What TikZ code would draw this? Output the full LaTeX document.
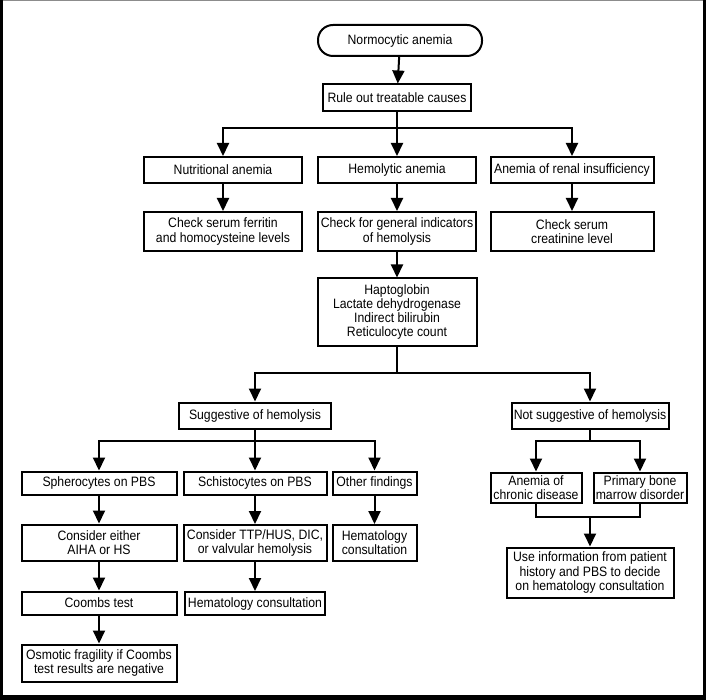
\documentclass[tikz,border=0pt]{standalone}
\usepackage{fontspec}
\setmainfont{Liberation Sans}[FakeStretch=0.9]
\usetikzlibrary{arrows.meta}

\tikzset{
  box/.style={draw, line width=2pt, align=center, inner sep=1pt,
    font=\fontsize{13.6}{14.2}\selectfont},
  arr/.style={line width=2pt, -{Triangle[length=13pt,width=12pt]}},
  link/.style={line width=2pt},
}

\begin{document}
\begin{tikzpicture}[x=1pt,y=-1pt]
    \useasboundingbox (0,0) rectangle (706,700);
    % frame
    \fill[black!45] (0,0) rectangle (706,1.5);
    \fill (0,0) rectangle (3,700);
    \fill (703,0) rectangle (706,700);
    \fill (0,695) rectangle (706,700);

    % top part
    \node[box, rounded corners=15pt, minimum width=164pt, minimum height=31pt] (norm) at (400,40.5) {Normocytic anemia};
    \node[box, minimum width=148pt, minimum height=27pt] (rule) at (397,98) {Rule out treatable causes};
    \node[box, minimum width=158pt, minimum height=26pt] (nutr) at (223,170) {Nutritional anemia};
    \node[box, minimum width=158pt, minimum height=26pt] (hemo) at (397,170) {Hemolytic anemia};
    \node[box, minimum width=163pt, minimum height=26pt] (renal) at (572,170) {Anemia of renal insufficiency};
    \node[box, minimum width=158pt, minimum height=39pt] (ferr) at (223,231.5) {Check serum ferritin\\and homocysteine levels};
    \node[box, minimum width=158pt, minimum height=39pt] (indic) at (397,231.5) {Check for general indicators\\of hemolysis};
    \node[box, minimum width=163pt, minimum height=39pt] (creat) at (572,231.5) {Check serum\\creatinine level};
    \node[box, minimum width=159pt, minimum height=67pt] (hapto) at (397,312) {Haptoglobin\\Lactate dehydrogenase\\Indirect bilirubin\\Reticulocyte count};
    \node[box, minimum width=152pt, minimum height=26pt] (sugg) at (255,415.5) {Suggestive of hemolysis};
    \node[box, minimum width=157pt, minimum height=26pt] (nsugg) at (590,415.5) {Not suggestive of hemolysis};

    % left branch
    \node[box, minimum width=155pt, minimum height=23pt] (sphero) at (99,483) {Spherocytes on PBS};
    \node[box, minimum width=143pt, minimum height=23pt] (schisto) at (255,483) {Schistocytes on PBS};
    \node[box, minimum width=84pt, minimum height=23pt] (other) at (374.5,483) {Other findings};
    \node[box, minimum width=155pt, minimum height=36pt] (aiha) at (99,542.5) {Consider either\\AIHA or HS};
    \node[box, minimum width=143pt, minimum height=36pt] (ttp) at (255,543) {Consider TTP/HUS, DIC,\\or valvular hemolysis};
    \node[box, minimum width=84pt, minimum height=36pt] (hemcA) at (374.5,543) {Hematology\\consultation};
    \node[box, minimum width=155pt, minimum height=23pt] (coombs) at (99,603) {Coombs test};
    \node[box, minimum width=140pt, minimum height=23pt] (hemcB) at (255,603.5) {Hematology consultation};
    \node[box, minimum width=155pt, minimum height=37pt] (osmo) at (99,663) {Osmotic fragility if Coombs\\test results are negative};

    % right branch
    \node[box, minimum width=91pt, minimum height=30pt] (chron) at (536,487.5) {Anemia of\\chronic disease};
    \node[box, minimum width=93pt, minimum height=30pt] (marrow) at (640,487.5) {Primary bone\\marrow disorder};
    \node[box, minimum width=167pt, minimum height=50pt] (useinfo) at (590,572.5) {Use information from patient\\history and PBS to decide\\on hematology consultation};

    \coordinate (barA) at (397,128);
    \coordinate (barB) at (397,373);
    \coordinate (barC) at (255,441);
    \coordinate (barD) at (590,441);
    \coordinate (barE) at (590,517);

    \draw[arr] (norm) -- (rule);
    \draw[link] (rule) -- (barA);
    \draw[arr] (barA) -| (nutr);
    \draw[arr] (barA) -- (hemo);
    \draw[arr] (barA) -| (renal);
    \draw[arr] (nutr) -- (ferr);
    \draw[arr] (hemo) -- (indic);
    \draw[arr] (renal) -- (creat);
    \draw[arr] (indic) -- (hapto);
    \draw[link] (hapto) -- (barB);
    \draw[arr] (barB) -| (sugg);
    \draw[arr] (barB) -| (nsugg);

    \draw[link] (sugg) -- (barC);
    \draw[arr] (barC) -| (sphero);
    \draw[arr] (barC) -- (schisto);
    \draw[arr] (barC) -| (other);
    \draw[arr] (sphero) -- (aiha);
    \draw[arr] (aiha) -- (coombs);
    \draw[arr] (coombs) -- (osmo);
    \draw[arr] (schisto) -- (ttp);
    \draw[arr] (ttp) -- (hemcB);
    \draw[arr] (other) -- (hemcA);

    \draw[link] (nsugg) -- (barD);
    \draw[arr] (barD) -| (chron);
    \draw[arr] (barD) -| (marrow);
    \draw[link] (chron.south) |- (barE) -| (marrow.south);
    \draw[arr] (barE) -- (useinfo);
\end{tikzpicture}
\end{document}
